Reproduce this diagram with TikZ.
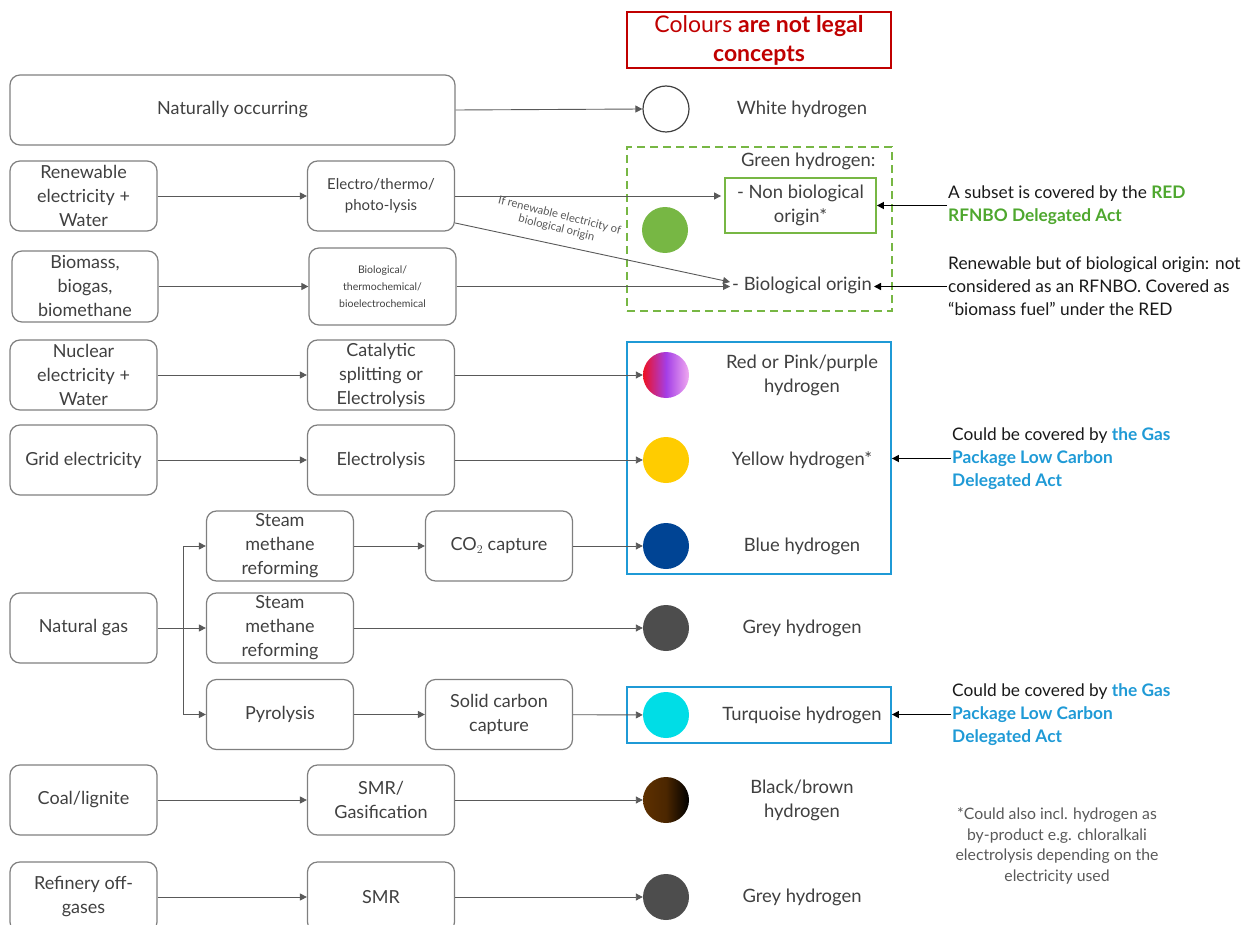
\documentclass[tikz,border=0pt]{standalone}
\usepackage{fontspec}
\setmainfont{Lato}
\usetikzlibrary{arrows.meta}
\definecolor{boxline}{HTML}{7F7F7F}
\definecolor{txt}{HTML}{404040}
\definecolor{arr}{HTML}{595959}
\definecolor{gr}{HTML}{4EA72E}
\definecolor{grc}{HTML}{77B744}
\definecolor{bl}{HTML}{1F9AD6}
\definecolor{ttl}{HTML}{C00000}
\definecolor{yel}{HTML}{FFCC00}
\definecolor{blu}{HTML}{004494}
\definecolor{gry}{HTML}{4D4D4D}
\definecolor{tur}{HTML}{00DDE6}
\definecolor{rd}{HTML}{EE1122}
\definecolor{pur}{HTML}{A43EE6}
\definecolor{pnk}{HTML}{F0AAF0}
\definecolor{brn}{HTML}{5E3000}
\begin{document}
\begin{tikzpicture}[x=1pt,y=-1pt,
  box/.style={draw=boxline, line width=1.2pt, rounded corners=10pt, text=txt, align=center,
    font=\fontsize{18}{24}\selectfont, inner sep=0pt, minimum width=147pt, minimum height=70pt},
  dot/.style={circle, minimum size=46pt, inner sep=0pt},
  hlab/.style={text=txt, align=center, font=\fontsize{18.4}{24}\selectfont},
  conn/.style={draw=arr, line width=0.9pt, -{Triangle[length=7pt,width=7pt]}},
  note/.style={align=left, anchor=west, text=black!90, font=\fontsize{17.3}{23}\selectfont, inner sep=1pt},
  bnote/.style={draw=black, line width=1.5pt, -{Triangle[length=7pt,width=7pt]}}
]
\useasboundingbox (0,0) rectangle (1252,925);

% title
\node[draw=ttl, line width=1.5pt, minimum width=264pt, minimum height=56pt, inner sep=0pt,
  text=ttl, align=center, font=\fontsize{23}{29}\selectfont] (title) at (759,40)
  {Colours \textbf{are not legal}\\\textbf{concepts}};

% source boxes
\node[box, minimum width=445pt] (nat) at (232.5,110) {Naturally occurring};
\node[box] (ren) at (83.5,196) {Renewable\\electricity +\\Water};
\node[box, font=\fontsize{15}{21}\selectfont] (elec) at (381,196) {Electro/thermo/\\photo-lysis};
\node[box, minimum width=146pt, minimum height=71pt] (bio) at (85,286.5) {Biomass,\\biogas,\\biomethane};
\node[box, minimum height=77pt, font=\fontsize{10.5}{17}\selectfont] (bioproc) at (382.5,286.5) {Biological/\\thermochemical/\\bioelectrochemical};
\node[box] (nuc) at (83.5,375) {Nuclear\\electricity +\\Water};
\node[box] (cat) at (381,375) {Catalytic\\splitting or\\Electrolysis};
\node[box] (grid) at (83.5,460) {Grid electricity};
\node[box] (ely) at (381,460) {Electrolysis};
\node[box] (smra) at (280,546) {Steam\\methane\\reforming};
\node[box] (co2) at (499,546) {CO$_2$ capture};
\node[box] (ng) at (83.5,628) {Natural gas};
\node[box] (smrb) at (280,628) {Steam\\methane\\reforming};
\node[box] (pyr) at (280,714.5) {Pyrolysis};
\node[box] (scc) at (499,714.5) {Solid carbon\\capture};
\node[box] (coal) at (83.5,800) {Coal/lignite};
\node[box] (gas) at (381,800) {SMR/\\Gasification};
\node[box] (ref) at (83.5,897) {Refinery off-\\gases};
\node[box] (smrc) at (381,897) {SMR};

% group frames
\node[draw=grc, line width=1.5pt, dashed, dash pattern=on 8pt off 5pt, minimum width=265pt, minimum height=164pt, inner sep=0pt] (gbox) at (759.5,229) {};
\node[draw=bl, line width=1.8pt, minimum width=264pt, minimum height=232pt, inner sep=0pt] (bbox) at (759,458) {};
\node[draw=bl, line width=1.8pt, minimum width=264pt, minimum height=56pt, inner sep=0pt] (tbox) at (759,715) {};

% circles
\node[dot, draw=txt, line width=1.2pt, fill=white] (c1) at (666,109) {};
\node[dot, fill=grc] (c2) at (665,230) {};
\node[dot, left color=rd, right color=pnk, middle color=pur] (c3) at (666,375) {};
\node[dot, fill=yel] (c4) at (666,460) {};
\node[dot, fill=blu] (c5) at (666,546) {};
\node[dot, fill=gry] (c6) at (666,628) {};
\node[dot, fill=tur] (c7) at (666,715) {};
\node[dot, left color=brn, right color=black, middle color=brn!80!black] (c8) at (666,800) {};
\node[dot, fill=gry] (c9) at (666,897) {};

% labels
\node[hlab] (l1) at (802,109) {White hydrogen};
\node[hlab, anchor=east] (gh) at (879,161) {Green hydrogen:};
\node[draw=grc, line width=1.8pt, minimum width=151pt, minimum height=55pt, inner sep=0pt,
  hlab] (nonbio) at (800.5,205.5) {- Non biological\\origin*};
\node[hlab, inner sep=2pt] (biol) at (802,285) {- Biological origin};
\node[hlab] (l3) at (802,375) {Red or Pink/purple\\hydrogen};
\node[hlab] (l4) at (802,460) {Yellow hydrogen*};
\node[hlab] (l5) at (802,546) {Blue hydrogen};
\node[hlab] (l6) at (802,628) {Grey hydrogen};
\node[hlab] (l7) at (802,715) {Turquoise hydrogen};
\node[hlab] (l8) at (802,800) {Black/brown\\hydrogen};
\node[hlab] (l9) at (802,897) {Grey hydrogen};

% notes
\node[note] (n1) at (947,205.5) {A subset is covered by the \textcolor{gr}{\textbf{RED}}\\\textcolor{gr}{\textbf{RFNBO Delegated Act}}};
\node[note] (n2) at (947,286.5) {Renewable but of biological origin: not\\considered as an RFNBO. Covered as\\“biomass fuel” under the RED};
\node[note] (n3) at (951,458.5) {Could be covered by \textcolor{bl}{\textbf{the Gas}}\\\textcolor{bl}{\textbf{Package Low Carbon}}\\\textcolor{bl}{\textbf{Delegated Act}}};
\node[note] (n4) at (951,714.5) {Could be covered by \textcolor{bl}{\textbf{the Gas}}\\\textcolor{bl}{\textbf{Package Low Carbon}}\\\textcolor{bl}{\textbf{Delegated Act}}};
\node[align=center, text=arr, font=\fontsize{15.8}{20.5}\selectfont] (foot) at (1057,846)
  {*Could also incl. hydrogen as\\by-product e.g. chloralkali\\electrolysis depending on the\\electricity used};

% connectors
\draw[conn] (nat.east) -- (c1.west);
\draw[conn] (ren) -- (elec);
\draw[conn] (elec.east) -- ([xshift=-3pt]elec.east -| nonbio.west);
\draw[conn] (elec.-20) -- ([yshift=3pt]biol.west);
\node[text=arr, font=\fontsize{11.3}{13}\selectfont, align=center, rotate=-14, inner sep=1pt] (iflab) at (558,222)
  {If renewable electricity of\\biological origin};
\draw[conn] (bio) -- (bioproc);
\draw[conn] (bioproc.east) -- (bioproc.east -| biol.west);
\draw[conn] (nuc) -- (cat);
\draw[conn] (cat) -- (c3);
\draw[conn] (grid) -- (ely);
\draw[conn] (ely) -- (c4);
\draw[conn] (smra) -- (co2);
\draw[conn] (co2) -- (c5);
\coordinate (split) at (183,628);
\draw[draw=arr, line width=0.9pt] (ng.east) -- (split);
\draw[conn] (split) |- (smra.west);
\draw[conn] (split) -- (smrb.west);
\draw[conn] (split) |- (pyr.west);
\draw[conn] (smrb) -- (c6);
\draw[conn] (pyr) -- (scc);
\draw[conn] (scc) -- (c7);
\draw[conn] (coal) -- (gas);
\draw[conn] (gas) -- (c8);
\draw[conn] (ref) -- (smrc);
\draw[conn] (smrc) -- (c9);

\draw[bnote] (n1.west) -- (n1.west -| nonbio.east);
\draw[bnote] (n2.west) -- (n2.west -| biol.east);
\draw[bnote] (n3.west) -- (n3.west -| bbox.east);
\draw[bnote] (n4.west) -- (n4.west -| tbox.east);
\end{tikzpicture}
\end{document}
